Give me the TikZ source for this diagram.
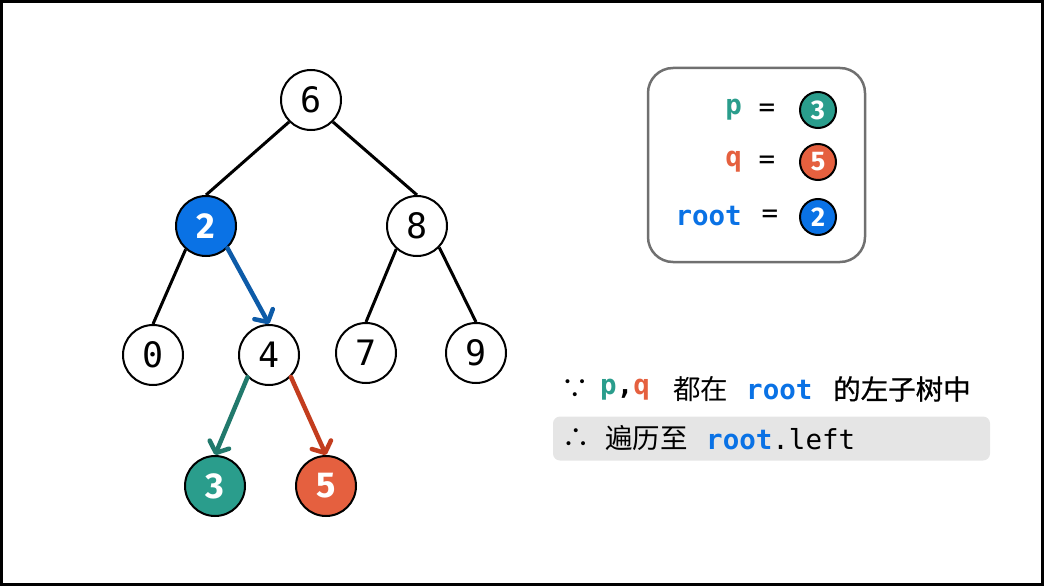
\documentclass[tikz,border=0pt]{standalone}
\usepackage{fontspec}
\setmainfont{DejaVu Sans}
\setsansfont{Fira Sans}
\setmonofont{DejaVu Sans Mono}
\newfontfamily\cjk{Noto Sans CJK SC}
\newfontfamily\cjkm[FakeBold=0.8]{Noto Sans CJK SC}
\usetikzlibrary{arrows.meta}
\definecolor{cblue}{HTML}{0A72E5}
\definecolor{cteal}{HTML}{2A9D8C}
\definecolor{corange}{HTML}{E5603F}
\definecolor{ablue}{HTML}{0D5BA8}
\definecolor{ateal}{HTML}{21796C}
\definecolor{ared}{HTML}{C33D1E}
\definecolor{boxgray}{HTML}{707070}
\definecolor{bandgray}{HTML}{E5E5E5}
\tikzset{
  tn/.style={circle, draw=black, line width=2pt, fill=white, minimum size=60pt, inner sep=0pt,
    font=\ttfamily\fontsize{35}{35}\selectfont},
  cn/.style={tn, text=white, font=\sffamily\bfseries\fontsize{36}{36}\selectfont},
  sn/.style={circle, draw=black, line width=2pt, minimum size=36pt, inner sep=0pt, text=white,
    font=\sffamily\bfseries\fontsize{27}{27}\selectfont},
  edge/.style={line width=3pt, black},
  arr/.style={line width=4.5pt, line cap=round, -{Straight Barb[length=9pt,width=21pt,line cap=round,line join=round]}},
  mono/.style={font=\ttfamily\fontsize{27.5}{27.5}\selectfont, inner sep=0pt},
  monob/.style={font=\ttfamily\bfseries\fontsize{27.5}{27.5}\selectfont, inner sep=0pt},
  cjkt/.style={font=\cjk\fontsize{27.5}{27.5}\selectfont, inner sep=0pt},
  cjkmt/.style={font=\cjkm\fontsize{27.5}{27.5}\selectfont, inner sep=0pt},
}
\begin{document}
\begin{tikzpicture}[x=1pt,y=-1pt]
\useasboundingbox (0,0) rectangle (1044,586);
\draw[line width=3pt] (1.5,1.5) rectangle (1042.5,584.5);

% tree
\node[tn] (n6) at (311,100) {6};
\node[cn, fill=cblue] (n2) at (206,226) {2};
\node[tn] (n8) at (417,226) {8};
\node[tn] (n0) at (153,355) {0};
\node[tn] (n4) at (269,355) {4};
\node[tn] (n7) at (366,353) {7};
\node[tn] (n9) at (476,353) {9};
\node[cn, fill=cteal] (n3) at (215,486) {3};
\node[cn, fill=corange] (n5) at (326,486) {5};

\draw[edge] (n6.225) -- (n2.north);
\draw[edge] (n6.-45) -- (n8.north);
\draw[edge] (n2.229) -- (n0.north);
\draw[edge] (n8.228) -- (n7.north);
\draw[edge] (n8.-44) -- (n9.north);
\draw[arr, ablue] (n2.-46) -- (n4.north);
\draw[arr, ateal] (n4.226) -- (n3.north);
\draw[arr, ared] (n4.-45) -- (n5.north);

% legend box
\node[draw=boxgray, line width=2.5pt, rounded corners=25pt, minimum width=217pt, minimum height=194pt, inner sep=0pt] (box) at (756.5,165) {};
\node[monob, text=cteal, anchor=east] (lp) at (742,110) {p};
\node[mono, anchor=center] (ep) at (767,110) {=};
\node[sn, fill=cteal] (bp) at (818,110) {3};
\node[monob, text=corange, anchor=east] (lq) at (742,162) {q};
\node[mono, anchor=center] (eq) at (767,162) {=};
\node[sn, fill=corange] (bq) at (818,162) {5};
\node[monob, text=cblue, anchor=east] (lr) at (742,216) {root};
\node[mono, anchor=center] (er) at (770,216) {=};
\node[sn, fill=cblue] (br) at (818,217) {2};

% text lines
\node[fill=bandgray, rounded corners=7pt, minimum width=437pt, minimum height=44pt, inner sep=0pt] (band) at (771.5,438.5) {};
\node[cjkt, anchor=center] (because) at (575,389) {∵};
\node[monob, anchor=west] (pq) at (600,390) {\textcolor{cteal}{p}\textcolor{black}{,}\textcolor{corange}{q}};
\node[cjkt, anchor=west] (t1) at (673,389) {都在};
\node[monob, text=cblue, anchor=west] (r1) at (746,390) {root};
\node[cjkmt, anchor=west] (t2) at (833,389) {的左子树中};
\node[cjkt, anchor=center] (therefore) at (576,438) {∴};
\node[cjkt, anchor=west] (t3) at (605,438) {遍历至};
\node[mono, anchor=west] (r2) at (706,439) {\textcolor{cblue}{\bfseries root}.left};
\end{tikzpicture}
\end{document}
